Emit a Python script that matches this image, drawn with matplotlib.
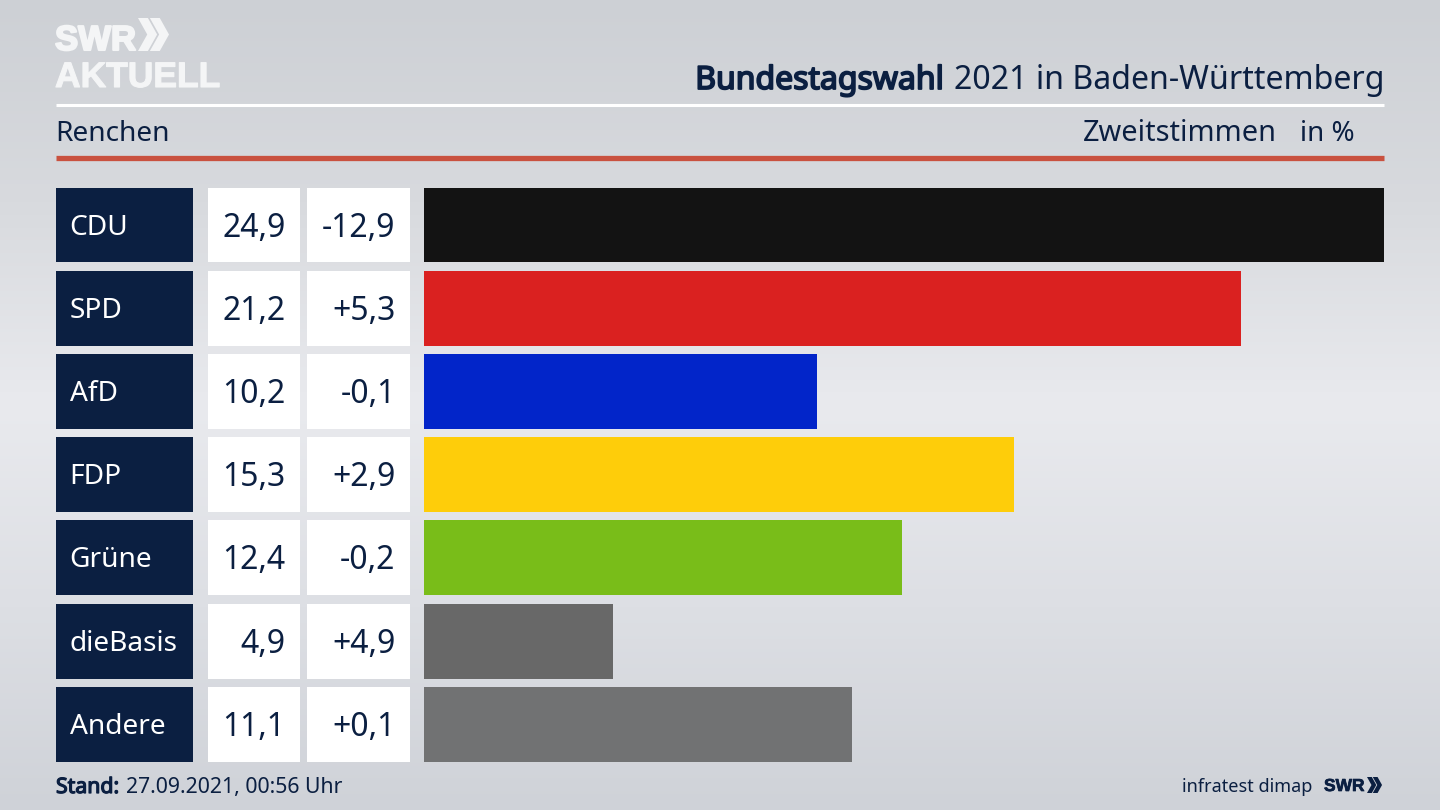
"""SWR Hochrechnungsgrafik Renchen, Zweitstimmen."""

import matplotlib
matplotlib.use('Agg')
import matplotlib.patheffects as pe
import matplotlib.pyplot as plt
import numpy as np
from matplotlib.colors import LinearSegmentedColormap
from matplotlib.patches import Polygon

parteien = ['CDU', 'SPD', 'AfD', 'FDP', 'Grüne', 'dieBasis', 'Andere']
anteile = [24.9, 21.2, 10.2, 15.3, 12.4, 4.9, 11.1]
differenzen = [-12.9, 5.3, -0.1, 2.9, -0.2, 4.9, 0.1]
kleuren = ['#131313', '#da2120', '#0225c9', '#fecd0a', '#79bd19', '#686868', '#717273']

NAVY = '#0b1f41'
LOGO = '#f4f5f6'
W, H = 1440, 810

plt.rcParams['font.family'] = 'Noto Sans'


def komma(waarde, teken=False):
    tekst = f'{waarde:+.1f}' if teken else f'{waarde:.1f}'
    return tekst.replace('.', ',')


def px_axes(fig, x0, y0, x1, y1):
    """Axes op pixelpositie, y van boven naar beneden."""
    return fig.add_axes([x0 / W, 1 - y1 / H, (x1 - x0) / W, (y1 - y0) / H])


def vet(dikte, kleur=NAVY):
    """Nep-vet: Noto Sans is hier alleen als regular beschikbaar."""
    return [pe.withStroke(linewidth=dikte, foreground=kleur)]


def chevrons(ax, x, y, h, color):
    for dx in (0, h * 0.36):
        pts = [(x + dx, y), (x + dx + h * 0.3, y), (x + dx + h * 0.58, y + h / 2),
               (x + dx + h * 0.3, y + h), (x + dx, y + h), (x + dx + h * 0.28, y + h / 2)]
        ax.add_patch(Polygon(pts, closed=True, fc=color, ec='none'))


fig = plt.figure(figsize=(W / 100, H / 100), dpi=100)

# achtergrond met verloop
bg = px_axes(fig, 0, 0, W, H)
cmap = LinearSegmentedColormap.from_list('bg', ['#cdd0d5', '#d8dade', '#e9eaee', '#dddfe4', '#cfd2d8'])
verloop = np.linspace(0, 1, 256).reshape(-1, 1)
bg.imshow(verloop, cmap=cmap, aspect='auto', extent=(0, W, H, 0), zorder=0)
bg.set_xlim(0, W)
bg.set_ylim(H, 0)
bg.axis('off')

# kop
bg.plot([56, 1384], [105, 105], color='white', lw=2.2, solid_capstyle='butt')
bg.plot([56, 1384], [157.5, 157.5], color='#c9513f', lw=3.8, solid_capstyle='butt')

bg.text(55, 50, 'SWR', color=LOGO, fontsize=25, fontweight='bold', family='Liberation Sans', va='baseline',
        path_effects=vet(1.5, LOGO))
chevrons(bg, 138, 18, 33, LOGO)
bg.text(55, 87, 'AKTUELL', color=LOGO, fontsize=25.5, fontweight='bold', family='Liberation Sans', va='baseline',
        path_effects=vet(0.8, LOGO))

regular = bg.text(1384, 89, '2021 in Baden-Württemberg', color=NAVY, fontsize=23.1, ha='right', va='baseline')
fig.canvas.draw()
links = regular.get_window_extent().x0
bg.text(links - 9, 89, 'Bundestagswahl', color=NAVY, fontsize=23, ha='right', va='baseline',
        path_effects=vet(1.3))

bg.text(55.5, 141, 'Renchen', color=NAVY, fontsize=20.2, va='baseline')
bg.text(1277, 141, 'Zweitstimmen', color=NAVY, fontsize=20.8, ha='right', va='baseline')
bg.text(1355, 141, 'in %', color=NAVY, fontsize=20, ha='right', va='baseline')

# voet
bg.text(56, 793, 'Stand:', color=NAVY, fontsize=15.3, va='baseline', path_effects=vet(0.9))
bg.text(126, 793, '27.09.2021, 00:56 Uhr', color=NAVY, fontsize=15.3, va='baseline')
bg.text(1312, 792, 'infratest dimap', color=NAVY, fontsize=13, ha='right', va='baseline')
bg.text(1324, 791, 'SWR', color=NAVY, fontsize=12.5, fontweight='bold', family='Liberation Sans',
        va='baseline', path_effects=vet(0.5))
chevrons(bg, 1367, 777, 16, NAVY)

rijen = np.arange(len(parteien))

# tabel links
tab = px_axes(fig, 56, 183.4, 410, 766)
tab.patch.set_alpha(0)
tab.set_xlim(56, 410)
tab.set_ylim(6.5, -0.5)
tab.axis('off')
tab.barh(rijen, 137, left=56, height=0.9, color=NAVY)
tab.barh(rijen, 92, left=208, height=0.9, color='white')
tab.barh(rijen, 104, left=306.5, height=0.9, color='white')
for rij, partij, anteil, diff in zip(rijen, parteien, anteile, differenzen):
    tab.text(69.5, rij - 0.012, partij, color='white', fontsize=20.2, va='center_baseline')
    tab.text(285.5, rij - 0.012, komma(anteil), color=NAVY, fontsize=23, ha='right', va='center_baseline')
    tab.text(395.5, rij - 0.012, komma(diff, True), color=NAVY, fontsize=23, ha='right', va='center_baseline')

# balken
ax = px_axes(fig, 424, 183.4, 1384, 766)
ax.patch.set_alpha(0)
ax.barh(rijen, anteile, height=0.9, color=kleuren)
ax.set_xlim(0, 24.9)
ax.set_ylim(6.5, -0.5)
ax.axis('off')

fig.savefig('out.png', dpi=100)
